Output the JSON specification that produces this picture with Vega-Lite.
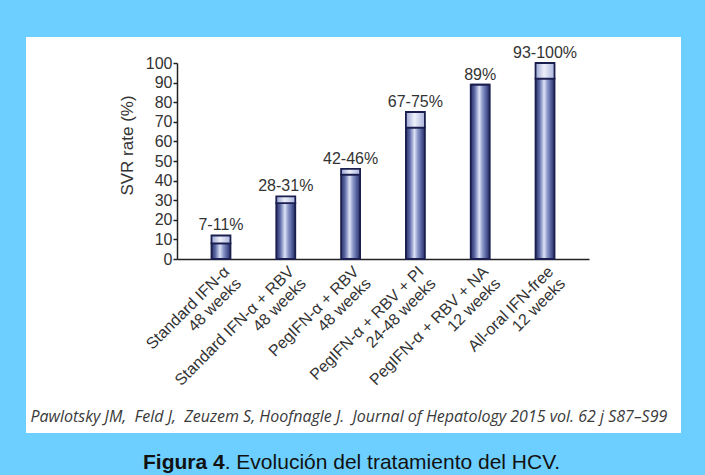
{
  "$schema": "https://vega.github.io/schema/vega-lite/v6.json",
  "width": 655,
  "height": 396,
  "autosize": {"type": "none"},
  "padding": {"left": 26, "top": 37, "right": 24, "bottom": 42},
  "background": "#6dcfff",
  "view": {"fill": "white", "stroke": null},
  "title": {
    "text": "Figura 4",
    "subtitle": "\u200b\u00a0\u00a0\u00a0\u00a0\u00a0\u00a0\u00a0\u00a0\u00a0\u00a0\u00a0\u00a0\u00a0\u00a0. Evolución del tratamiento del HCV.",
    "orient": "bottom",
    "anchor": "start",
    "frame": "group",
    "dx": 117,
    "offset": 19,
    "baseline": "top",
    "font": "Liberation Sans",
    "fontSize": 21,
    "fontWeight": "bold",
    "color": "#111111",
    "subtitleFont": "Liberation Sans",
    "subtitleFontSize": 21,
    "subtitleFontWeight": "normal",
    "subtitleColor": "#111111",
    "subtitlePadding": -21
  },
  "data": {
    "values": [
      {"treatment": "Standard IFN-α|48 weeks", "lo": 8, "hi": 12, "label": "7-11%"},
      {"treatment": "Standard IFN-α + RBV|48 weeks", "lo": 28.5, "hi": 32, "label": "28-31%"},
      {"treatment": "PegIFN-α + RBV|48 weeks", "lo": 43, "hi": 46, "label": "42-46%"},
      {"treatment": "PegIFN-α + RBV + PI|24-48 weeks", "lo": 67, "hi": 75, "label": "67-75%"},
      {"treatment": "PegIFN-α + RBV + NA|12 weeks", "lo": 89, "hi": 89, "label": "89%"},
      {"treatment": "All-oral IFN-free|12 weeks", "lo": 92, "hi": 100, "label": "93-100%"}
    ]
  },
  "encoding": {
    "x": {
      "field": "treatment",
      "type": "nominal",
      "sort": null,
      "scale": {"range": [151, 563], "paddingInner": 0.707, "paddingOuter": 0.532},
      "axis": {
        "orient": "bottom",
        "offset": -174,
        "title": "Pawlotsky JM,\u00a0 Feld J,\u00a0 Zeuzem S, Hoofnagle J.\u00a0 Journal of Hepatology 2015 vol. 62 j S87–S99",
        "titleX": 4,
        "titleY": 162,
        "titleAlign": "left",
        "titleAngle": 0,
        "titleBaseline": "alphabetic",
        "titleFont": "Open Sans",
        "titleFontStyle": "italic",
        "titleFontWeight": "normal",
        "titleFontSize": 16,
        "titleColor": "#3a3a3a",
        "labelAngle": -45,
        "labelAlign": "right",
        "labelBaseline": "top",
        "labelExpr": "split(datum.label, '|')",
        "labelFont": "Liberation Sans",
        "labelFontSize": 16,
        "labelLineHeight": 17,
        "labelColor": "#333333",
        "labelPadding": 4,
        "labelLimit": 300,
        "labelOverlap": false,
        "ticks": false,
        "domainColor": "#222222",
        "domainWidth": 1.5
      }
    }
  },
  "layer": [
    {
      "mark": {
        "type": "bar",
        "stroke": "#1b1f4f",
        "strokeWidth": 1.8,
        "fill": {
          "gradient": "linear",
          "x1": 0, "y1": 0, "x2": 1, "y2": 0,
          "stops": [
            {"offset": 0, "color": "#2a3060"},
            {"offset": 0.2, "color": "#5b67a6"},
            {"offset": 0.45, "color": "#dde3f5"},
            {"offset": 0.62, "color": "#8e9acb"},
            {"offset": 0.85, "color": "#4a5594"},
            {"offset": 1, "color": "#2a3060"}
          ]
        }
      },
      "encoding": {
        "y": {
          "field": "lo",
          "type": "quantitative",
          "scale": {"domain": [0, 100], "range": [222, 26], "nice": false},
          "axis": {
            "orient": "left",
            "offset": -151,
            "values": [0, 10, 20, 30, 40, 50, 60, 70, 80, 90, 100],
            "labelOverlap": false,
            "grid": false,
            "title": "SVR rate (%)",
            "titleFont": "Liberation Sans",
            "titleFontSize": 17,
            "titleFontWeight": "normal",
            "titleColor": "#333333",
            "titleY": 108,
            "titlePadding": 9,
            "labelFont": "Liberation Sans",
            "labelFontSize": 16,
            "labelColor": "#333333",
            "labelPadding": 1,
            "tickSize": 4,
            "tickColor": "#222222",
            "tickWidth": 1.5,
            "domainColor": "#222222",
            "domainWidth": 1.5
          }
        }
      }
    },
    {
      "mark": {
        "type": "bar",
        "stroke": "#1b1f4f",
        "strokeWidth": 1.8,
        "fill": {
          "gradient": "linear",
          "x1": 0, "y1": 0, "x2": 1, "y2": 0,
          "stops": [
            {"offset": 0, "color": "#9aa5d3"},
            {"offset": 0.45, "color": "#eef0fa"},
            {"offset": 1, "color": "#a9b3dc"}
          ]
        }
      },
      "encoding": {
        "y": {
          "field": "lo",
          "type": "quantitative",
          "scale": {"domain": [0, 100], "range": [222, 26], "nice": false},
          "axis": {
            "orient": "left",
            "offset": -151,
            "values": [0, 10, 20, 30, 40, 50, 60, 70, 80, 90, 100],
            "labelOverlap": false,
            "grid": false,
            "title": "SVR rate (%)",
            "titleFont": "Liberation Sans",
            "titleFontSize": 17,
            "titleFontWeight": "normal",
            "titleColor": "#333333",
            "titleY": 108,
            "titlePadding": 9,
            "labelFont": "Liberation Sans",
            "labelFontSize": 16,
            "labelColor": "#333333",
            "labelPadding": 1,
            "tickSize": 4,
            "tickColor": "#222222",
            "tickWidth": 1.5,
            "domainColor": "#222222",
            "domainWidth": 1.5
          }
        },
        "y2": {"field": "hi"}
      }
    },
    {
      "mark": {
        "type": "text",
        "font": "Liberation Sans",
        "fontSize": 16,
        "color": "#333333",
        "baseline": "alphabetic",
        "dy": -5
      },
      "encoding": {
        "y": {
          "field": "hi",
          "type": "quantitative",
          "scale": {"domain": [0, 100], "range": [222, 26], "nice": false},
          "axis": {
            "orient": "left",
            "offset": -151,
            "values": [0, 10, 20, 30, 40, 50, 60, 70, 80, 90, 100],
            "labelOverlap": false,
            "grid": false,
            "title": "SVR rate (%)",
            "titleFont": "Liberation Sans",
            "titleFontSize": 17,
            "titleFontWeight": "normal",
            "titleColor": "#333333",
            "titleY": 108,
            "titlePadding": 9,
            "labelFont": "Liberation Sans",
            "labelFontSize": 16,
            "labelColor": "#333333",
            "labelPadding": 1,
            "tickSize": 4,
            "tickColor": "#222222",
            "tickWidth": 1.5,
            "domainColor": "#222222",
            "domainWidth": 1.5
          }
        },
        "text": {"field": "label"}
      }
    }
  ]
}
